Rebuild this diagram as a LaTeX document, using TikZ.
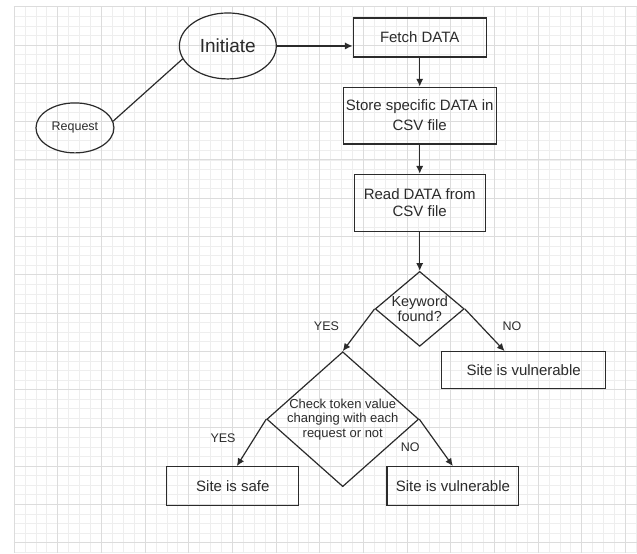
\documentclass[tikz,border=0pt]{standalone}
\usepackage{fontspec}
\setmainfont{Liberation Sans}
\usetikzlibrary{arrows.meta,positioning,shapes.geometric}
\definecolor{fcink}{HTML}{2B2B2B}
\definecolor{fcgrid}{HTML}{DCDCDC}
\definecolor{fcsubgrid}{HTML}{EEEEEE}

\begin{document}
\begin{tikzpicture}[
  x=1pt,y=1pt,
  node distance=29pt,
  every node/.style={align=center,text=fcink},
  box/.style={draw=fcink,line width=1.2pt,inner xsep=1pt,minimum height=39pt,font=\fontsize{15}{17}\selectfont},
  oval/.style={draw=fcink,line width=1.2pt,ellipse,inner sep=0pt},
  decision/.style={draw=fcink,line width=1.2pt,diamond,inner sep=0pt},
  tag/.style={font=\fontsize{12.5}{14}\selectfont},
  arrow/.style={-{Latex[length=2.7mm,width=2.5mm]},line width=1.2pt,draw=fcink},
  link/.style={line width=1.2pt,draw=fcink}
]
% paper and grid
\fill[white] (0,0) rectangle (637,553);
\draw[fcsubgrid,line width=0.6pt,xstep=10.925pt,ystep=9.575pt,shift={(14,10)}] (0,-10) grid (623,536.3);
\draw[fcgrid,line width=0.9pt,xstep=43.7pt,ystep=38.3pt,shift={(14,10)}] (0,-10) grid (623,536.3);

% main column
\node[box,minimum width=133pt] (fetch) at (420,515.5) {Fetch DATA};
\node[box,minimum width=153pt,minimum height=57pt,below=of fetch] (store) {Store specific DATA in\\[3pt]CSV file};
\node[box,minimum width=131pt,minimum height=57pt,below=of store] (read) {Read DATA from\\CSV file};
\node[decision,minimum width=89pt,minimum height=75pt,aspect=1.19,below=39pt of read,font=\fontsize{14.5}{15}\selectfont] (keyword) {Keyword\\found?};

% start
\node[oval,minimum width=97pt,minimum height=66pt,font=\fontsize{19}{21}\selectfont] (initiate) at (228,507) {Initiate};
\node[oval,minimum width=78pt,minimum height=50pt,font=\fontsize{12.5}{14}\selectfont] (request) at (75,425) {Request};

% outcomes
\node[box,minimum width=164pt,minimum height=37pt] (vulnA) at (524,182.5) {Site is vulnerable};
\node[decision,minimum width=152pt,minimum height=135pt,aspect=1.13,inner sep=-2pt,font=\fontsize{13}{14.5}\selectfont] (check) at (343,133.5) {Check token value\\changing with each\\request or not};
\node[box,minimum width=132pt] (safe) at (233,66.5) {Site is safe};
\node[box,minimum width=132pt,right=87pt of safe] (vulnB) {Site is vulnerable};

\draw[link] (request.10) -- (initiate.196);
\draw[arrow] (initiate.east) -- (initiate.east -| fetch.west);
\draw[arrow] (fetch) -- (store);
\draw[arrow] (store) -- (read);
\draw[arrow] (read) -- (keyword);
\draw[arrow] (keyword.west) -- node[tag,pos=.4,left=19pt]{YES} (check.north);
\draw[arrow] (keyword.east) -- node[tag,pos=.4,right=18pt]{NO} ([xshift=-19pt]vulnA.north);
\draw[arrow] (check.west) -- node[tag,pos=.4,left=15pt]{YES} ([xshift=4pt]safe.north);
\draw[arrow] (check.east) -- node[tag,pos=.6,left=16pt]{NO} (vulnB.north);
\end{tikzpicture}
\end{document}
